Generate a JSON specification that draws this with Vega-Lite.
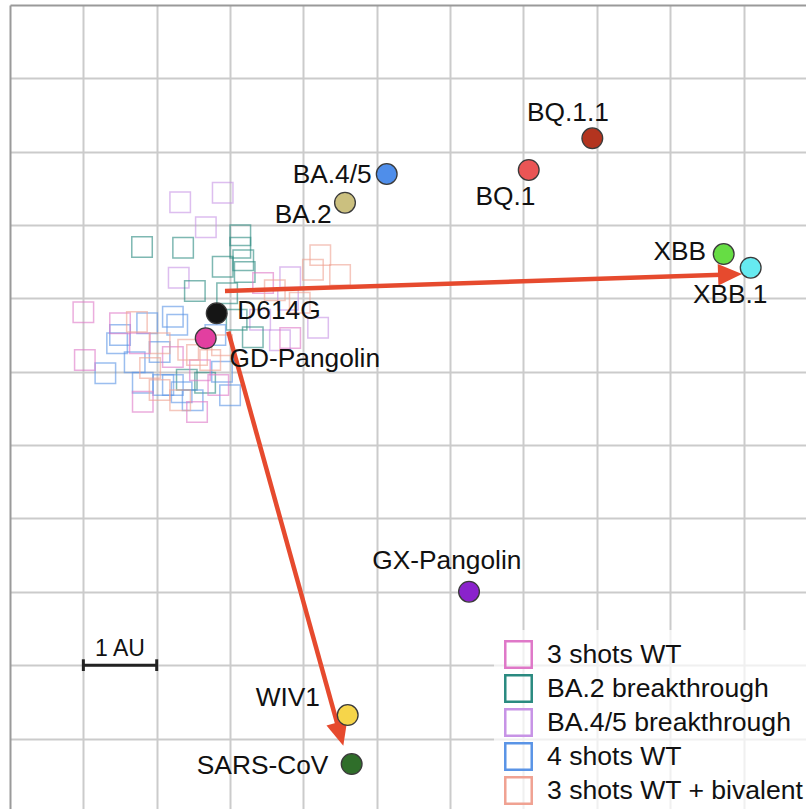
{
  "$schema": "https://vega.github.io/schema/vega-lite/v6.json",
  "width": 796,
  "height": 804,
  "autosize": "none",
  "padding": {"left": 10, "top": 5, "right": 0, "bottom": 0},
  "background": "white",
  "config": {"view": {"stroke": null}, "font": "Liberation Sans"},
  "datasets": {
    "sera": [
      {"group": "BA.4/5 breakthrough", "x": 2.32, "y": 2.69},
      {"group": "BA.4/5 breakthrough", "x": 2.90, "y": 2.56},
      {"group": "BA.4/5 breakthrough", "x": 2.67, "y": 3.03},
      {"group": "BA.4/5 breakthrough", "x": 2.30, "y": 3.72},
      {"group": "BA.4/5 breakthrough", "x": 3.79, "y": 4.02},
      {"group": "BA.4/5 breakthrough", "x": 3.68, "y": 4.57},
      {"group": "BA.4/5 breakthrough", "x": 3.82, "y": 3.71},
      {"group": "BA.4/5 breakthrough", "x": 4.20, "y": 4.40},
      {"group": "BA.4/5 breakthrough", "x": 3.41, "y": 4.29},
      {"group": "BA.2 breakthrough", "x": 1.80, "y": 3.30},
      {"group": "BA.2 breakthrough", "x": 2.36, "y": 3.31},
      {"group": "BA.2 breakthrough", "x": 3.14, "y": 3.14},
      {"group": "BA.2 breakthrough", "x": 3.14, "y": 3.31},
      {"group": "BA.2 breakthrough", "x": 3.18, "y": 3.48},
      {"group": "BA.2 breakthrough", "x": 2.90, "y": 3.57},
      {"group": "BA.2 breakthrough", "x": 3.20, "y": 3.64},
      {"group": "BA.2 breakthrough", "x": 2.52, "y": 3.90},
      {"group": "BA.2 breakthrough", "x": 2.96, "y": 3.93},
      {"group": "BA.2 breakthrough", "x": 3.31, "y": 4.53},
      {"group": "BA.2 breakthrough", "x": 3.09, "y": 4.29},
      {"group": "BA.2 breakthrough", "x": 2.41, "y": 5.11},
      {"group": "BA.2 breakthrough", "x": 2.66, "y": 5.15},
      {"group": "4 shots WT", "x": 1.87, "y": 4.34},
      {"group": "4 shots WT", "x": 2.22, "y": 4.25},
      {"group": "4 shots WT", "x": 2.28, "y": 4.36},
      {"group": "4 shots WT", "x": 1.46, "y": 4.61},
      {"group": "4 shots WT", "x": 1.50, "y": 4.50},
      {"group": "4 shots WT", "x": 1.30, "y": 5.02},
      {"group": "4 shots WT", "x": 1.70, "y": 4.87},
      {"group": "4 shots WT", "x": 1.81, "y": 5.15},
      {"group": "4 shots WT", "x": 2.09, "y": 5.18},
      {"group": "4 shots WT", "x": 2.22, "y": 5.18},
      {"group": "4 shots WT", "x": 2.34, "y": 5.28},
      {"group": "4 shots WT", "x": 2.49, "y": 5.39},
      {"group": "4 shots WT", "x": 2.89, "y": 5.00},
      {"group": "4 shots WT", "x": 2.04, "y": 4.73},
      {"group": "4 shots WT", "x": 2.80, "y": 4.50},
      {"group": "4 shots WT", "x": 3.00, "y": 5.32},
      {"group": "3 shots WT", "x": 1.00, "y": 4.19},
      {"group": "3 shots WT", "x": 1.50, "y": 4.34},
      {"group": "3 shots WT", "x": 1.77, "y": 4.61},
      {"group": "3 shots WT", "x": 1.02, "y": 4.84},
      {"group": "3 shots WT", "x": 2.22, "y": 4.80},
      {"group": "3 shots WT", "x": 1.81, "y": 5.41},
      {"group": "3 shots WT", "x": 2.55, "y": 5.55},
      {"group": "3 shots WT", "x": 2.59, "y": 4.98},
      {"group": "3 shots WT", "x": 2.84, "y": 5.18},
      {"group": "3 shots WT", "x": 3.82, "y": 4.54},
      {"group": "3 shots WT", "x": 3.45, "y": 3.79},
      {"group": "3 shots WT + bivalent", "x": 1.73, "y": 4.32},
      {"group": "3 shots WT + bivalent", "x": 2.04, "y": 4.61},
      {"group": "3 shots WT + bivalent", "x": 1.91, "y": 4.95},
      {"group": "3 shots WT + bivalent", "x": 2.43, "y": 4.70},
      {"group": "3 shots WT + bivalent", "x": 2.55, "y": 4.77},
      {"group": "3 shots WT + bivalent", "x": 2.04, "y": 5.25},
      {"group": "3 shots WT + bivalent", "x": 4.23, "y": 3.41},
      {"group": "3 shots WT + bivalent", "x": 4.13, "y": 3.61},
      {"group": "3 shots WT + bivalent", "x": 4.50, "y": 3.68},
      {"group": "3 shots WT + bivalent", "x": 3.95, "y": 4.06},
      {"group": "3 shots WT + bivalent", "x": 2.73, "y": 4.84},
      {"group": "3 shots WT + bivalent", "x": 2.89, "y": 4.64},
      {"group": "3 shots WT + bivalent", "x": 2.32, "y": 5.39},
      {"group": "3 shots WT + bivalent", "x": 3.61, "y": 3.89}
    ],
    "antigens": [
      {"name": "GD-Pangolin", "x": 2.668, "y": 4.544},
      {"name": "D614G", "x": 2.818, "y": 4.203},
      {"name": "BA.2", "x": 4.567, "y": 2.695},
      {"name": "BA.4/5", "x": 5.136, "y": 2.304},
      {"name": "BQ.1", "x": 7.072, "y": 2.249},
      {"name": "BQ.1.1", "x": 7.939, "y": 1.817},
      {"name": "XBB", "x": 9.730, "y": 3.395},
      {"name": "XBB.1", "x": 10.098, "y": 3.581},
      {"name": "GX-Pangolin", "x": 6.258, "y": 7.999},
      {"name": "WIV1", "x": 4.604, "y": 9.680},
      {"name": "SARS-CoV", "x": 4.658, "y": 10.348}
    ],
    "labels": [
      {"label": "BA.4/5", "align": "right", "x": 4.931, "y": 2.423},
      {"label": "BA.2", "align": "right", "x": 4.386, "y": 2.968},
      {"label": "D614G", "align": "left", "x": 3.099, "y": 4.285},
      {"label": "GD-Pangolin", "align": "left", "x": 2.993, "y": 4.931},
      {"label": "BQ.1.1", "align": "center", "x": 7.607, "y": 1.577},
      {"label": "BQ.1", "align": "center", "x": 6.755, "y": 2.727},
      {"label": "XBB", "align": "right", "x": 9.489, "y": 3.476},
      {"label": "XBB.1", "align": "center", "x": 9.819, "y": 4.067},
      {"label": "GX-Pangolin", "align": "center", "x": 5.955, "y": 7.689},
      {"label": "WIV1", "align": "right", "x": 4.226, "y": 9.553},
      {"label": "SARS-CoV", "align": "right", "x": 4.340, "y": 10.484}
    ],
    "arrows": [
      {"arrow": "a", "ord": 0, "x": 2.931, "y": 3.899},
      {"arrow": "a", "ord": 1, "x": 9.707, "y": 3.677},
      {"arrow": "b", "ord": 0, "x": 2.976, "y": 4.454},
      {"arrow": "b", "ord": 1, "x": 4.472, "y": 9.835}
    ],
    "heads": [
      {"arrow": "a", "x": 9.980, "y": 3.667, "angle": 358.1},
      {"arrow": "b", "x": 4.544, "y": 10.098, "angle": 74.5}
    ],
    "bar": [{"x": 1, "x2": 2, "y": 9.0, "y1": 8.92, "y2": 9.08}]
  },
  "encoding": {
    "x": {
      "field": "x", "type": "quantitative",
      "scale": {"domain": [0, 10.852], "nice": false, "zero": false},
      "axis": {"orient": "top", "title": null, "labels": false, "ticks": false,
        "values": [1, 2, 3, 4, 5, 6, 7, 8, 9, 10],
        "grid": true, "gridColor": "#cbcbcb", "gridWidth": 2,
        "domainColor": "#9a9a9a", "domainWidth": 2}
    },
    "y": {
      "field": "y", "type": "quantitative",
      "scale": {"domain": [0, 10.961], "nice": false, "zero": false, "reverse": true},
      "axis": {"orient": "left", "title": null, "labels": false, "ticks": false,
        "values": [1, 2, 3, 4, 5, 6, 7, 8, 9, 10],
        "grid": true, "gridColor": "#cbcbcb", "gridWidth": 2,
        "domainColor": "#9a9a9a", "domainWidth": 2}
    }
  },
  "layer": [
    {
      "data": {"name": "sera"},
      "mark": {"type": "point", "shape": "square", "filled": false, "size": 420, "strokeWidth": 1.5, "opacity": 0.6},
      "encoding": {
        "stroke": {
          "field": "group", "type": "nominal",
          "scale": {
            "domain": ["3 shots WT", "BA.2 breakthrough", "BA.4/5 breakthrough", "4 shots WT", "3 shots WT + bivalent"],
            "range": ["#df78c8", "#2a8a80", "#c793e6", "#5a94e6", "#f0a292"]
          },
          "legend": {
            "orient": "none", "legendX": 484, "legendY": 625, "title": null,
            "symbolType": "square", "symbolSize": 700, "symbolStrokeWidth": 2.5,
            "symbolOpacity": 1, "labelFontSize": 26.6, "labelColor": "#111",
            "labelFont": "Liberation Sans", "rowPadding": -3, "padding": 10,
            "fillColor": "rgba(255,255,255,0.7)", "labelOffset": 14, "labelLimit": 400
          }
        }
      }
    },
    {
      "data": {"name": "arrows"},
      "mark": {"type": "line", "color": "#e64a2e", "strokeWidth": 4.5},
      "encoding": {
        "detail": {"field": "arrow", "type": "nominal"},
        "order": {"field": "ord", "type": "quantitative"}
      }
    },
    {
      "data": {"name": "heads"},
      "mark": {"type": "point", "shape": "M0,0L-2,-0.9L-2,0.9Z", "filled": true, "size": 576, "color": "#e64a2e", "opacity": 1},
      "encoding": {
        "angle": {"field": "angle", "type": "quantitative", "scale": null}
      }
    },
    {
      "data": {"name": "antigens"},
      "mark": {"type": "point", "shape": "circle", "filled": true, "size": 430, "stroke": "#3a3a3a", "strokeWidth": 1.3, "opacity": 1},
      "encoding": {
        "fill": {
          "field": "name", "type": "nominal", "legend": null,
          "scale": {
            "domain": ["GD-Pangolin", "D614G", "BA.2", "BA.4/5", "BQ.1", "BQ.1.1", "XBB", "XBB.1", "GX-Pangolin", "WIV1", "SARS-CoV"],
            "range": ["#e23fa0", "#151515", "#cbc07f", "#4f8eea", "#ea5555", "#b3341f", "#66dd44", "#66eaf0", "#8a22cc", "#f6d54a", "#2f6e2a"]
          }
        }
      }
    },
    {
      "data": {"name": "bar"},
      "mark": {"type": "rule", "color": "#222", "strokeWidth": 3},
      "encoding": {"x2": {"field": "x2"}}
    },
    {
      "data": {"name": "bar"},
      "mark": {"type": "rule", "color": "#222", "strokeWidth": 3},
      "encoding": {"y": {"field": "y1", "type": "quantitative"}, "y2": {"field": "y2"}}
    },
    {
      "data": {"name": "bar"},
      "mark": {"type": "rule", "color": "#222", "strokeWidth": 3},
      "encoding": {"x": {"field": "x2", "type": "quantitative"}, "y": {"field": "y1", "type": "quantitative"}, "y2": {"field": "y2"}}
    },
    {
      "data": {"values": [{"label": "1 AU", "x": 1.5, "y": 8.871}]},
      "mark": {"type": "text", "fontSize": 23, "color": "#111", "align": "center", "baseline": "alphabetic", "font": "Liberation Sans"},
      "encoding": {"text": {"field": "label"}}
    },
    {
      "data": {"name": "labels"},
      "transform": [{"filter": "datum.align === 'left'"}],
      "mark": {"type": "text", "fontSize": 26.3, "color": "#111", "align": "left", "baseline": "alphabetic", "font": "Liberation Sans"},
      "encoding": {"text": {"field": "label"}}
    },
    {
      "data": {"name": "labels"},
      "transform": [{"filter": "datum.align === 'right'"}],
      "mark": {"type": "text", "fontSize": 26.3, "color": "#111", "align": "right", "baseline": "alphabetic", "font": "Liberation Sans"},
      "encoding": {"text": {"field": "label"}}
    },
    {
      "data": {"name": "labels"},
      "transform": [{"filter": "datum.align === 'center'"}],
      "mark": {"type": "text", "fontSize": 26.3, "color": "#111", "align": "center", "baseline": "alphabetic", "font": "Liberation Sans"},
      "encoding": {"text": {"field": "label"}}
    }
  ]
}
